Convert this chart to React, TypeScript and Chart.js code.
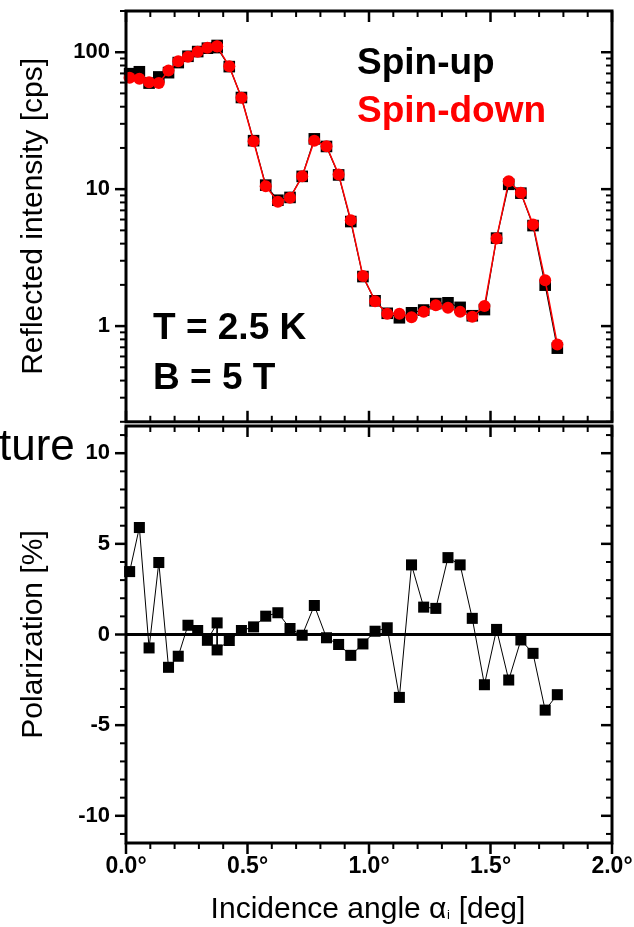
import React, { useEffect, useRef } from "react";
import { Chart, registerables } from "chart.js";

Chart.register(...registerables);

const FONT = '"Liberation Sans", Arial, Helvetica, sans-serif';

// ---- data ----
const angles = [
  0.015, 0.055, 0.095, 0.135, 0.175, 0.215, 0.255, 0.295, 0.335, 0.375,
  0.375, 0.425, 0.475, 0.525, 0.575, 0.625, 0.675, 0.725, 0.775, 0.825,
  0.875, 0.925, 0.975, 1.025, 1.075, 1.125, 1.175, 1.225, 1.275, 1.325,
  1.375, 1.425, 1.475, 1.525, 1.575, 1.625, 1.675, 1.725, 1.775,
];
const spinUp = [
  69.7, 72, 59.5, 66, 70.9, 84, 93.4, 101.1, 107, 112,
  108.1, 78.5, 46.7, 22.6, 10.7, 8.3, 8.7, 12.4, 23.3, 20.5,
  12.7, 5.8, 2.3, 1.53, 1.24, 1.15, 1.25, 1.31, 1.46, 1.48,
  1.37, 1.19, 1.32, 4.39, 10.85, 9.35, 5.42, 1.99, 0.69,
];
const spinDown = [
  65, 64, 60.4, 59.5, 73.5, 86, 92.5, 100.7, 107.7, 110.6,
  110, 79, 46.5, 22.4, 10.5, 8.1, 8.65, 12.4, 22.6, 20.6,
  12.8, 5.94, 2.32, 1.52, 1.23, 1.23, 1.16, 1.27, 1.42, 1.36,
  1.27, 1.17, 1.4, 4.37, 11.4, 9.41, 5.53, 2.16, 0.735,
];
const polarization = [
  3.47, 5.9, -0.74, 3.97, -1.81, -1.2, 0.51, 0.22, -0.32, 0.64,
  -0.85, -0.33, 0.22, 0.42, 1.01, 1.2, 0.33, -0.04, 1.6, -0.18,
  -0.55, -1.15, -0.52, 0.18, 0.37, -3.47, 3.84, 1.51, 1.44, 4.24,
  3.84, 0.89, -2.77, 0.28, -2.51, -0.3, -1.04, -4.17, -3.32,
];
const angleTicks = [0, 0.5, 1.0, 1.5, 2.0];
const intensityTicks = [1, 10, 100];
const polarizationTicks = [-10, -5, 0, 5, 10];

const seriesLabels = ["Spin-up", "Spin-down"];
const annotationLines = ["T = 2.5 K", "B = 5 T"];

// ---- layout constants ----
const W = 634;
const TOP_H = 430;
const BOT_TOP = 415;
const BOT_H = 512;
const RED = "#ff0000";

function line(ctx: CanvasRenderingContext2D, x1: number, y1: number, x2: number, y2: number, w: number) {
  ctx.lineWidth = w;
  ctx.beginPath();
  ctx.moveTo(x1, y1);
  ctx.lineTo(x2, y2);
  ctx.stroke();
}

function drawXTicks(ctx: CanvasRenderingContext2D, chart: any, topInward: boolean, bottomOutward: boolean) {
  const xs = chart.scales.x;
  const a = chart.chartArea;
  for (let i = 0; i <= 20; i++) {
    const v = i / 10;
    const major = i % 5 === 0;
    const len = major ? 11 : 6;
    const w = major ? 2.5 : 2;
    const px = xs.getPixelForValue(v);
    if (topInward) line(ctx, px, a.top, px, a.top + len, w);
    if (bottomOutward) line(ctx, px, a.bottom, px, a.bottom + len, w);
    else line(ctx, px, a.bottom, px, a.bottom - len, w);
  }
}

function drawYTicks(ctx: CanvasRenderingContext2D, chart: any, values: { v: number; major: boolean }[]) {
  const ys = chart.scales.y;
  const a = chart.chartArea;
  for (const t of values) {
    const py = ys.getPixelForValue(t.v);
    const len = t.major ? 11 : 6;
    const w = t.major ? 2.5 : 2;
    line(ctx, a.left - len, py, a.left, py, w);
    line(ctx, a.right - len, py, a.right, py, w);
  }
}

function drawFrame(ctx: CanvasRenderingContext2D, a: any) {
  ctx.lineWidth = 3;
  ctx.strokeRect(a.left, a.top, a.right - a.left, a.bottom - a.top);
}

const topDeco = {
  id: "topDeco",
  afterDraw(chart: any) {
    const ctx = chart.ctx as CanvasRenderingContext2D;
    const a = chart.chartArea;
    ctx.save();
    ctx.strokeStyle = "#000";
    ctx.lineCap = "butt";
    drawFrame(ctx, a);
    drawXTicks(ctx, chart, true, false);
    const vals: { v: number; major: boolean }[] = [];
    for (const d of [0.1, 1, 10, 100]) {
      for (let m = 1; m <= 9; m++) {
        const v = +(m * d).toPrecision(6);
        if (v >= 0.2 - 1e-9 && v <= 200 + 1e-9) vals.push({ v, major: m === 1 });
      }
    }
    drawYTicks(ctx, chart, vals);
    ctx.textAlign = "left";
    ctx.textBaseline = "alphabetic";
    ctx.font = `bold 37px ${FONT}`;
    ctx.fillStyle = "#000";
    ctx.fillText(seriesLabels[0], 357, 74);
    ctx.fillStyle = RED;
    ctx.fillText(seriesLabels[1], 357, 122);
    ctx.fillStyle = "#000";
    ctx.fillText(annotationLines[0], 153, 339);
    ctx.fillText(annotationLines[1], 153, 389);
    ctx.restore();
  },
};

const bottomDeco = {
  id: "bottomDeco",
  beforeDatasetsDraw(chart: any) {
    const ctx = chart.ctx as CanvasRenderingContext2D;
    const a = chart.chartArea;
    const y0 = chart.scales.y.getPixelForValue(0);
    ctx.save();
    ctx.strokeStyle = "#000";
    line(ctx, a.left, y0, a.right, y0, 3);
    ctx.restore();
  },
  afterDraw(chart: any) {
    const ctx = chart.ctx as CanvasRenderingContext2D;
    const a = chart.chartArea;
    ctx.save();
    ctx.strokeStyle = "#000";
    ctx.lineCap = "butt";
    drawFrame(ctx, a);
    drawXTicks(ctx, chart, true, true);
    const vals: { v: number; major: boolean }[] = [];
    for (let v = -11; v <= 11; v++) vals.push({ v, major: v % 5 === 0 });
    drawYTicks(ctx, chart, vals);

    // x axis title with subscript
    ctx.fillStyle = "#000";
    ctx.textBaseline = "alphabetic";
    ctx.textAlign = "left";
    const p1 = "Incidence angle \u03b1";
    const sub = "i";
    const p2 = " [deg]";
    const mainFont = `30px ${FONT}`;
    const subFont = `13px ${FONT}`;
    ctx.font = mainFont;
    const w1 = ctx.measureText(p1).width;
    const w2 = ctx.measureText(p2).width;
    ctx.font = subFont;
    const ws = ctx.measureText(sub).width;
    const cx = (a.left + a.right) / 2 - 1;
    let x = cx - (w1 + ws + 1 + w2) / 2;
    const base = 918 - BOT_TOP;
    ctx.font = mainFont;
    ctx.fillText(p1, x, base);
    x += w1 + 0.5;
    ctx.font = subFont;
    ctx.fillText(sub, x, base + 1);
    x += ws + 0.5;
    ctx.font = mainFont;
    ctx.fillText(p2, x, base);

    // stray text from the underlying slide
    ctx.font = `44px ${FONT}`;
    ctx.fillText("ture", -1, 460 - BOT_TOP);
    ctx.restore();
  },
};

const tickFont = { family: FONT, size: 22, weight: "bold" as const };
const titleFont = { family: FONT, size: 30, weight: "normal" as const };

function yAxisFit(scale: any) {
  scale.width = 126;
  scale.paddingTop = 0;
  scale.paddingBottom = 0;
}

export default function App() {
  const topRef = useRef<HTMLCanvasElement | null>(null);
  const botRef = useRef<HTMLCanvasElement | null>(null);

  useEffect(() => {
    const topChart = new Chart(topRef.current as HTMLCanvasElement, {
      type: "line",
      data: {
        datasets: [
          {
            label: seriesLabels[1],
            data: angles.map((x, i) => ({ x, y: spinDown[i] })),
            borderColor: RED,
            backgroundColor: RED,
            borderWidth: 1.5,
            pointStyle: "circle",
            pointRadius: 6,
            pointBorderWidth: 0,
            clip: false as any,
          },
          {
            label: seriesLabels[0],
            data: angles.map((x, i) => ({ x, y: spinUp[i] })),
            borderColor: "#000",
            backgroundColor: "#000",
            borderWidth: 1.2,
            pointStyle: "rect",
            pointRadius: 8.2,
            pointBorderWidth: 0,
            clip: false as any,
          },
        ],
      },
      options: {
        animation: false,
        responsive: false,
        maintainAspectRatio: false,
        devicePixelRatio: 1,
        layout: { padding: { left: 0, right: 22, top: 11, bottom: 5 } },
        plugins: { legend: { display: false }, tooltip: { enabled: false } },
        elements: { line: { tension: 0 } },
        scales: {
          x: {
            type: "linear",
            min: 0,
            max: 2,
            ticks: { display: false },
            grid: { display: false, drawTicks: false },
            border: { display: false },
            afterBuildTicks: (s: any) => {
              s.ticks = angleTicks.map((v) => ({ value: v }));
            },
            afterFit: (s: any) => {
              s.height = 0;
              s.paddingLeft = 0;
              s.paddingRight = 0;
            },
          },
          y: {
            type: "logarithmic",
            min: 0.2,
            max: 200,
            ticks: {
              color: "#000",
              font: tickFont,
              padding: 16,
              callback: (v: any) => String(v),
            },
            grid: { display: false, drawTicks: false },
            border: { display: false },
            title: {
              display: true,
              text: "Reflected intensity [cps]",
              color: "#000",
              font: titleFont,
              padding: { top: 16, bottom: 0 },
            },
            afterBuildTicks: (s: any) => {
              s.ticks = intensityTicks.map((v) => ({ value: v }));
            },
            afterFit: yAxisFit,
          },
        },
      },
      plugins: [topDeco],
    } as any);

    const botChart = new Chart(botRef.current as HTMLCanvasElement, {
      type: "line",
      data: {
        datasets: [
          {
            label: "Polarization",
            data: angles.map((x, i) => ({ x, y: polarization[i] })),
            borderColor: "#000",
            backgroundColor: "#000",
            borderWidth: 1,
            pointStyle: "rect",
            pointRadius: 7.8,
            pointBorderWidth: 0,
            clip: false as any,
          },
        ],
      },
      options: {
        animation: false,
        responsive: false,
        maintainAspectRatio: false,
        devicePixelRatio: 1,
        layout: { padding: { left: 0, right: 22, top: 11, bottom: 0 } },
        plugins: { legend: { display: false }, tooltip: { enabled: false } },
        elements: { line: { tension: 0 } },
        scales: {
          x: {
            type: "linear",
            min: 0,
            max: 2,
            ticks: {
              color: "#000",
              font: { family: FONT, size: 23, weight: "bold" },
              padding: 10,
              maxRotation: 0,
              autoSkip: false,
              callback: (v: any) => Number(v).toFixed(1) + "\u00b0",
            },
            grid: { display: false, drawTicks: false },
            border: { display: false },
            afterBuildTicks: (s: any) => {
              s.ticks = angleTicks.map((v) => ({ value: v }));
            },
            afterFit: (s: any) => {
              s.height = 84;
              s.paddingLeft = 0;
              s.paddingRight = 0;
            },
          },
          y: {
            type: "linear",
            min: -11.5,
            max: 11.5,
            ticks: {
              color: "#000",
              font: tickFont,
              padding: 16,
              callback: (v: any) => String(v),
            },
            grid: { display: false, drawTicks: false },
            border: { display: false },
            title: {
              display: true,
              text: "Polarization [%]",
              color: "#000",
              font: titleFont,
              padding: { top: 16, bottom: 0 },
            },
            afterBuildTicks: (s: any) => {
              s.ticks = polarizationTicks.map((v) => ({ value: v }));
            },
            afterFit: yAxisFit,
          },
        },
      },
      plugins: [bottomDeco],
    } as any);

    return () => {
      topChart.destroy();
      botChart.destroy();
    };
  }, []);

  return (
    <div
      style={{
        position: "absolute",
        left: 0,
        top: 0,
        width: W,
        height: 927,
        background: "#fff",
        overflow: "hidden",
      }}
    >
      <canvas
        ref={topRef}
        width={W}
        height={TOP_H}
        style={{ position: "absolute", left: 0, top: 0, width: W, height: TOP_H }}
      />
      <canvas
        ref={botRef}
        width={W}
        height={BOT_H}
        style={{ position: "absolute", left: 0, top: BOT_TOP, width: W, height: BOT_H }}
      />
    </div>
  );
}
